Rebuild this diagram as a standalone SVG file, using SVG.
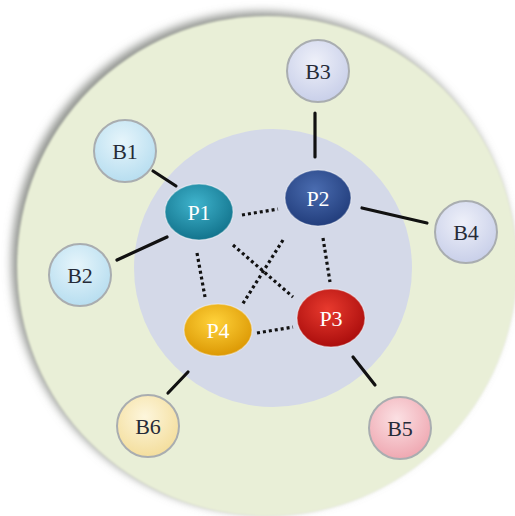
<svg xmlns="http://www.w3.org/2000/svg" width="515" height="516" viewBox="0 0 515 516">
  <defs>
    <filter id="soft" x="-10%" y="-10%" width="120%" height="120%">
      <feGaussianBlur stdDeviation="5"/>
    </filter>
    <filter id="edge" x="-5%" y="-5%" width="110%" height="110%">
      <feGaussianBlur stdDeviation="1.2"/>
    </filter>
    <radialGradient id="gP1" cx="45%" cy="35%" r="70%">
      <stop offset="0" stop-color="#3fb3cc"/>
      <stop offset="1" stop-color="#0f6f88"/>
    </radialGradient>
    <radialGradient id="gP2" cx="45%" cy="35%" r="70%">
      <stop offset="0" stop-color="#4a6cb0"/>
      <stop offset="1" stop-color="#1f3a78"/>
    </radialGradient>
    <radialGradient id="gP3" cx="45%" cy="35%" r="70%">
      <stop offset="0" stop-color="#e83a2e"/>
      <stop offset="1" stop-color="#a60a0a"/>
    </radialGradient>
    <radialGradient id="gP4" cx="45%" cy="35%" r="70%">
      <stop offset="0" stop-color="#ffd23a"/>
      <stop offset="1" stop-color="#d99400"/>
    </radialGradient>
    <radialGradient id="gBlue" cx="45%" cy="35%" r="70%">
      <stop offset="0" stop-color="#e6f5fb"/>
      <stop offset="1" stop-color="#b4dcef"/>
    </radialGradient>
    <radialGradient id="gLav" cx="45%" cy="35%" r="70%">
      <stop offset="0" stop-color="#eef0f9"/>
      <stop offset="1" stop-color="#c6cde8"/>
    </radialGradient>
    <radialGradient id="gPink" cx="45%" cy="35%" r="70%">
      <stop offset="0" stop-color="#fbe0e3"/>
      <stop offset="1" stop-color="#eea4ae"/>
    </radialGradient>
    <radialGradient id="gYel" cx="45%" cy="35%" r="70%">
      <stop offset="0" stop-color="#fdf6dc"/>
      <stop offset="1" stop-color="#f3dc98"/>
    </radialGradient>
  </defs>
  <style>
    .p { stroke: #ffffff; stroke-opacity: 0.35; stroke-width: 1.5; }
    .b { stroke: #a9adb0; stroke-width: 2; }
    .pt { font-family: "Liberation Serif", serif; font-size: 22px; fill: #ffffff; text-anchor: middle; }
    .bt { font-family: "Liberation Serif", serif; font-size: 22px; fill: #262b38; text-anchor: middle; }
    .solid { stroke: #111111; stroke-width: 3.2; stroke-linecap: round; fill: none; }
    .dot { stroke: #111111; stroke-width: 3.2; stroke-dasharray: 3 3; fill: none; }
  </style>

  <rect width="515" height="516" fill="#ffffff"/>

  <!-- outer ring, shadow falling to the upper left -->
  <circle cx="262" cy="262" r="250" fill="#8d908b" filter="url(#soft)"/>
  <circle cx="267" cy="266" r="250" fill="#e9efd7" filter="url(#edge)"/>
  <!-- inner core -->
  <circle cx="273" cy="268" r="139" fill="#d4d9e8"/>

  <g id="connectors">
    <line class="solid" x1="153" y1="171" x2="176" y2="186"/>
    <line class="solid" x1="117" y1="260" x2="167" y2="237"/>
    <line class="solid" x1="315" y1="113" x2="315" y2="157"/>
    <line class="solid" x1="362" y1="208" x2="427" y2="223"/>
    <line class="solid" x1="188" y1="372" x2="168" y2="393"/>
    <line class="solid" x1="353" y1="357" x2="375" y2="385"/>
    <line class="dot" x1="242" y1="215" x2="278" y2="209"/>
    <line class="dot" x1="197" y1="253" x2="205" y2="297"/>
    <line class="dot" x1="233" y1="245" x2="293" y2="297"/>
    <line class="dot" x1="283" y1="240" x2="242" y2="305"/>
    <line class="dot" x1="323" y1="238" x2="330" y2="282"/>
    <line class="dot" x1="257" y1="333" x2="293" y2="327"/>
  </g>

  <g id="P1"><ellipse class="p" cx="199" cy="212" rx="34" ry="28" fill="url(#gP1)"/><text class="pt" x="199" y="220">P1</text></g>
  <g id="P2"><ellipse class="p" cx="318" cy="198" rx="33" ry="28" fill="url(#gP2)"/><text class="pt" x="318" y="206">P2</text></g>
  <g id="P3"><ellipse class="p" cx="331" cy="318" rx="34" ry="29" fill="url(#gP3)"/><text class="pt" x="331" y="326">P3</text></g>
  <g id="P4"><ellipse class="p" cx="218" cy="330" rx="34" ry="26" fill="url(#gP4)"/><text class="pt" x="218" y="338">P4</text></g>

  <g id="B1"><circle class="b" cx="125" cy="151" r="31" fill="url(#gBlue)"/><text class="bt" x="125" y="159">B1</text></g>
  <g id="B2"><circle class="b" cx="80" cy="275" r="31" fill="url(#gBlue)"/><text class="bt" x="80" y="283">B2</text></g>
  <g id="B3"><circle class="b" cx="318" cy="71" r="31" fill="url(#gLav)"/><text class="bt" x="318" y="79">B3</text></g>
  <g id="B4"><circle class="b" cx="466" cy="232" r="31" fill="url(#gLav)"/><text class="bt" x="466" y="240">B4</text></g>
  <g id="B5"><circle class="b" cx="400" cy="428" r="31" fill="url(#gPink)"/><text class="bt" x="400" y="436">B5</text></g>
  <g id="B6"><circle class="b" cx="148" cy="426" r="31" fill="url(#gYel)"/><text class="bt" x="148" y="434">B6</text></g>
</svg>
